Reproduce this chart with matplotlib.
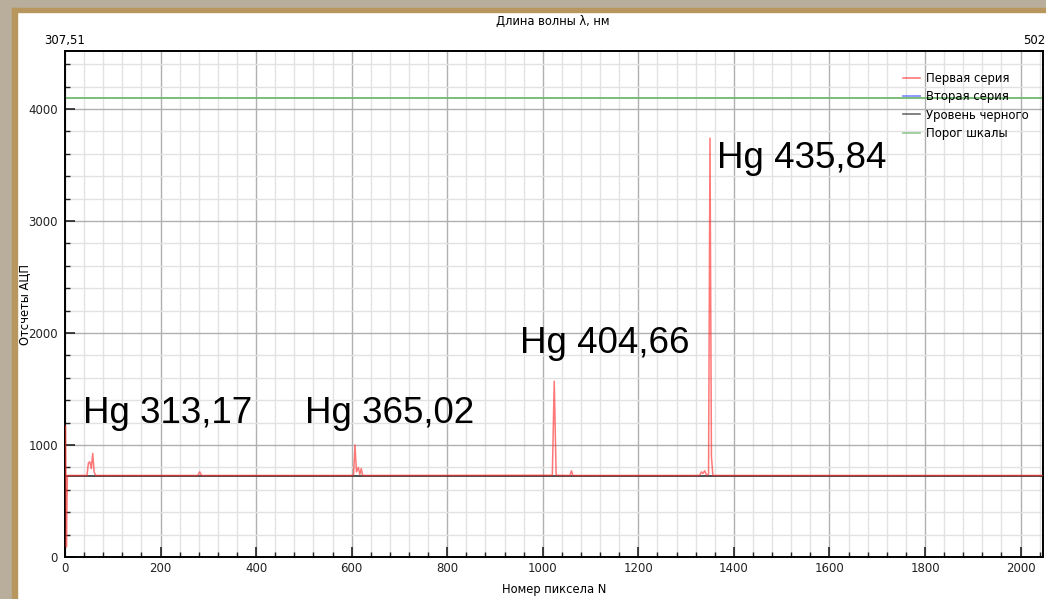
import matplotlib.pyplot as plt
from matplotlib.patches import Rectangle
from matplotlib.ticker import MultipleLocator

# Spectrum of the Hg lamp, pixel number vs ADC counts (vertices)
pixel = [1, 3, 5, 46, 49, 52, 55, 58, 61, 64, 278, 282, 286,
         600, 604, 607, 610, 614, 617, 620, 623, 1020, 1024, 1028,
         1057, 1060, 1063, 1328, 1332, 1335, 1339, 1343, 1347, 1350, 1353, 1356, 2047]
counts = [1170, 90, 728, 728, 840, 850, 790, 925, 760, 728, 728, 760, 728,
          728, 735, 1000, 760, 800, 735, 790, 728, 730, 1570, 730,
          728, 770, 728, 728, 760, 745, 770, 728, 740, 3740, 900, 728, 728]
second_pixel = []
second_counts = []
black_level = 722
scale_limit = 4095

line_labels = ['Hg 313,17', 'Hg 365,02', 'Hg 404,66', 'Hg 435,84']
label_xy = [(37, 1195), (503, 1195), (953, 1820), (1365, 3470)]

wl_left = '307,51'
wl_right = '502'

fig = plt.figure(figsize=(10.46, 5.99), dpi=100)
plt.rcParams['font.family'] = ['DejaVu Sans']

# window frame of the screenshot
fig.patches.append(Rectangle((0, 1 - 8 / 599), 1, 8 / 599, transform=fig.transFigure,
                             color='#b9ad9c', zorder=0))
fig.patches.append(Rectangle((0, 0), 12 / 1046, 1, transform=fig.transFigure,
                             color='#b9ad9c', zorder=0))
fig.patches.append(Rectangle((12 / 1046, 1 - 12 / 599), 1, 4 / 599, transform=fig.transFigure,
                             color='#b8975f', zorder=0))
fig.patches.append(Rectangle((12 / 1046, 0), 5 / 1046, 1 - 8 / 599, transform=fig.transFigure,
                             color='#b8975f', zorder=0))

ax = fig.add_axes([65 / 1046, 42 / 599, 978 / 1046, 506 / 599])
ax.set_xlim(0, 2047)
ax.set_ylim(0, 4518)

ax.xaxis.set_major_locator(MultipleLocator(200))
ax.xaxis.set_minor_locator(MultipleLocator(40))
ax.yaxis.set_major_locator(MultipleLocator(1000))
ax.yaxis.set_minor_locator(MultipleLocator(200))
ax.grid(which='major', color='#b0b0b0', lw=1)
ax.grid(which='minor', color='#e2e2e2', lw=1)
ax.set_axisbelow(True)
ax.tick_params(which='both', direction='in', labelsize=8.5, colors='#222222')
ax.tick_params(which='major', length=7, width=1.2)
ax.tick_params(which='minor', length=3.5, width=1)
ax.tick_params(axis='y', pad=5)
for s in ax.spines.values():
    s.set_linewidth(1.4)

ax.plot(pixel, counts, color='#ff3030', alpha=0.65, lw=1.1, label='Первая серия', zorder=3)
ax.plot(second_pixel, second_counts, color='#5060ff', lw=1.3, label='Вторая серия')
ax.axhline(black_level, color='#303030', lw=1.2, label='Уровень черного', zorder=2)
ax.axhline(scale_limit, color='#70b870', lw=1.3, label='Порог шкалы', zorder=2)

for txt, (x, y) in zip(line_labels, label_xy):
    ax.text(x, y, txt, fontsize=26.5, family='Liberation Sans', va='baseline', ha='left')

ax.set_xlabel('Номер пиксела N', fontsize=8.3)
ax.xaxis.set_label_coords(0.5, -(583 - 557) / 506)
ax.set_ylabel('Отсчеты АЦП', fontsize=8.3)
ax.yaxis.set_label_coords(-(65 - 31) / 978, 0.5)
fig.text(553 / 1046, 1 - 21 / 599, 'Длина волны λ, нм', fontsize=8.3, ha='center', va='center')
ax.text(0, 1 + 11 / 506, wl_left, transform=ax.transAxes, fontsize=8.5, ha='center', va='center')
fig.text(1045 / 1046, 1 - 40 / 599, wl_right, fontsize=8.5, ha='right', va='center')

leg = ax.legend(loc='upper right', bbox_to_anchor=((1029 - 65) / 978, (557 - 72) / 506),
                frameon=False, fontsize=8.4, handlelength=1.5, handletextpad=0.5,
                labelspacing=0.45, borderaxespad=0, borderpad=0)
for h in leg.get_lines():
    h.set_alpha(0.7)

fig.savefig('out.png', dpi=100)
